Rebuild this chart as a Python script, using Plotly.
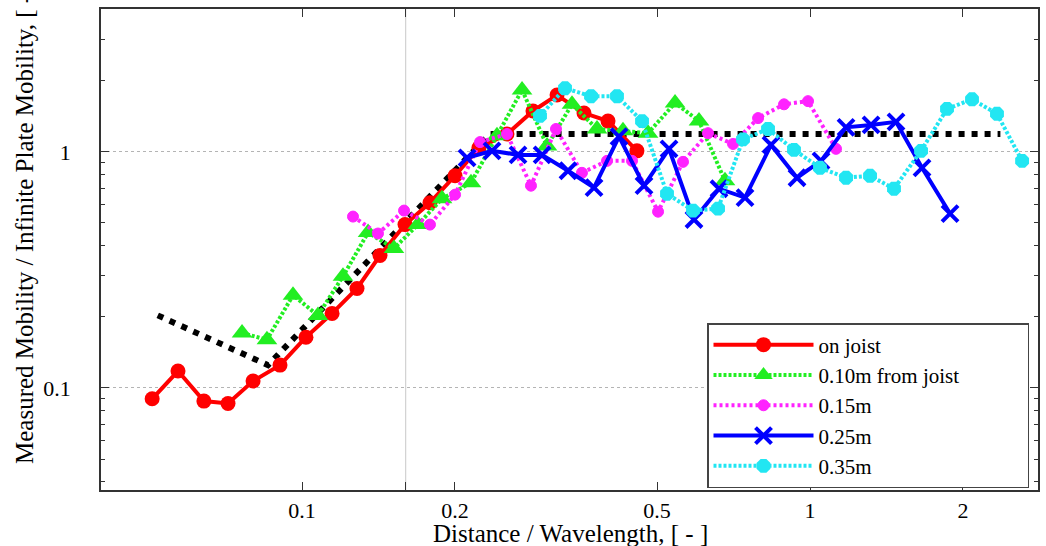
import plotly.graph_objects as go

# ---- data ----
x_joist = [0.0507, 0.0570, 0.0641, 0.0715, 0.0801, 0.0905, 0.1018, 0.1146, 0.1283, 0.1424,
           0.1595, 0.1786, 0.2001, 0.2230, 0.2532, 0.2849, 0.3177, 0.3590, 0.4003, 0.4563]
y_joist = [0.090, 0.118, 0.088, 0.086, 0.107, 0.125, 0.164, 0.207, 0.264, 0.364,
           0.492, 0.609, 0.792, 1.04, 1.19, 1.49, 1.74, 1.46, 1.35, 1.01]

x_010 = [0.0762, 0.0853, 0.0960, 0.1075, 0.1204, 0.1349, 0.1517, 0.1691, 0.1886, 0.2151,
         0.2420, 0.2711, 0.3036, 0.3400, 0.3808, 0.4284, 0.4799, 0.5424, 0.6046, 0.6802]
y_010 = [0.171, 0.160, 0.247, 0.203, 0.297, 0.455, 0.390, 0.492, 0.633, 0.740,
         1.17, 1.83, 1.06, 1.59, 1.25, 1.23, 1.20, 1.61, 1.35, 0.754]

x_015 = [0.1260, 0.1411, 0.1588, 0.1786, 0.2001, 0.2241, 0.2532, 0.2823, 0.3162, 0.3557,
         0.3985, 0.4463, 0.5022, 0.5623, 0.6298, 0.7055, 0.7903, 0.8889, 0.9910, 1.125]
y_015 = [0.532, 0.451, 0.564, 0.492, 0.659, 1.10, 1.19, 0.719, 1.25, 0.815,
         0.916, 0.916, 0.558, 0.907, 1.20, 1.08, 1.39, 1.59, 1.64, 1.03]

x_025 = [0.2113, 0.2366, 0.2662, 0.2969, 0.3339, 0.3757, 0.4207, 0.4712, 0.5278, 0.5910,
         0.6620, 0.7448, 0.8380, 0.9428, 1.0512, 1.1774, 1.3187, 1.4767, 1.6614, 1.8864]
y_025 = [0.943, 1.01, 0.971, 0.971, 0.832, 0.705, 1.16, 0.719, 1.03, 0.517,
         0.698, 0.640, 1.07, 0.777, 0.916, 1.27, 1.30, 1.34, 0.856, 0.548]

x_035 = [0.2941, 0.3294, 0.3706, 0.4169, 0.4670, 0.5230, 0.5885, 0.6591, 0.7381, 0.8267,
         0.9300, 1.0463, 1.1774, 1.3127, 1.4633, 1.6541, 1.8609, 2.0840, 2.3337, 2.6150]
y_035 = [1.42, 1.86, 1.72, 1.72, 1.35, 0.665, 0.564, 0.575, 1.13, 1.25,
         1.02, 0.856, 0.777, 0.792, 0.698, 1.01, 1.52, 1.67, 1.45, 0.916]

x_ref = [0.052, 0.0857, 0.2344, 2.37]
y_ref = [0.203, 0.125, 1.19, 1.19]

series_names = ["on joist", "0.10m from joist", "0.15m", "0.25m", "0.35m"]

x_tickvals = [0.1, 0.16, 0.2, 0.5, 1, 2]
x_ticktext = ["0.1", "", "0.2", "0.5", "1", "2"]
y_tickvals = [0.1, 1]
y_ticktext = ["0.1", "1"]
y_minor = [0.04, 0.05, 0.06, 0.07, 0.08, 0.09, 0.2, 0.3, 0.4, 0.5, 0.6, 0.7, 0.8, 0.9, 2, 3, 4]
x_vline = 0.16

FONT = "'Liberation Serif', 'Times New Roman', serif"
PAD = "\u00a0" * 12  # widens the legend box to match the reference

fig = go.Figure()

fig.add_trace(go.Scatter(x=x_ref, y=y_ref, mode="lines", showlegend=False,
                         line=dict(color="black", width=6, dash="6px,7px")))

fig.add_trace(go.Scatter(x=x_joist, y=y_joist, mode="lines+markers", name=series_names[0],
                         line=dict(color="#ff0000", width=4),
                         marker=dict(symbol="circle", size=15, color="#ff0000")))
fig.add_trace(go.Scatter(x=x_010, y=y_010, mode="lines+markers", name=series_names[1] + PAD,
                         line=dict(color="#22ee22", width=4, dash="3px,2px"),
                         marker=dict(symbol="triangle-up", size=18, color="#22ee22")))
fig.add_trace(go.Scatter(x=x_015, y=y_015, mode="lines+markers", name=series_names[2],
                         line=dict(color="#ff22ff", width=4, dash="3px,3px"),
                         marker=dict(symbol="circle", size=11, color="#ff22ff",
                                     line=dict(color="#ff22ff", width=1))))
fig.add_trace(go.Scatter(x=x_025, y=y_025, mode="lines+markers", name=series_names[3],
                         line=dict(color="#0000ff", width=4),
                         marker=dict(symbol="x-thin", size=16, color="#0000ff",
                                     line=dict(color="#0000ff", width=4))))
fig.add_trace(go.Scatter(x=x_035, y=y_035, mode="lines+markers", name=series_names[4],
                         line=dict(color="#22e6f2", width=4, dash="3px,2px"),
                         marker=dict(symbol="octagon", size=15, color="#22e6f2")))

fig.add_shape(type="line", xref="x", yref="paper", x0=x_vline, x1=x_vline, y0=0, y1=1,
              line=dict(color="#c8c8c8", width=1), layer="below")

fig.update_xaxes(type="log", range=[-1.3957, 0.4488], automargin=False,
                 tickmode="array", tickvals=x_tickvals, ticktext=x_ticktext,
                 ticks="inside", ticklen=8, tickcolor="#333", tickwidth=1,
                 showgrid=False, zeroline=False,
                 showline=True, linecolor="#333", linewidth=1.5, mirror="ticks",
                 tickfont=dict(family=FONT, size=22, color="black"))
fig.update_yaxes(type="log", range=[-1.432, 0.605], automargin=False,
                 tickmode="array", tickvals=y_tickvals, ticktext=y_ticktext,
                 ticks="inside", ticklen=8, tickcolor="#333", tickwidth=1,
                 showgrid=True, gridcolor="#b4b4b4", griddash="dot", gridwidth=1,
                 zeroline=False,
                 showline=True, linecolor="#333", linewidth=1.5, mirror="ticks",
                 minor=dict(tickvals=y_minor, ticks="inside", ticklen=4,
                            tickcolor="#333", showgrid=False),
                 tickfont=dict(family=FONT, size=22, color="black"),
                 ticklabelstandoff=24)

fig.add_annotation(text="Measured Mobility / Infinite Plate Mobility, [ - ]",
                   textangle=-90, xref="paper", yref="paper",
                   x=(25 - 101) / 937, y=(490 - 222) / 481,
                   xanchor="center", yanchor="middle", showarrow=False,
                   font=dict(family=FONT, size=25, color="black"))
fig.add_annotation(text="Distance / Wavelength, [ - ]",
                   xref="paper", yref="paper",
                   x=(570 - 101) / 937, y=(490 - 533) / 481,
                   xanchor="center", yanchor="middle", showarrow=False,
                   font=dict(family=FONT, size=25, color="black"))

fig.update_layout(
    width=1046, height=546,
    margin=dict(l=101, r=8, t=9, b=56),
    paper_bgcolor="white", plot_bgcolor="white",
    font=dict(family=FONT, size=22, color="black"),
    legend=dict(x=(707 - 101) / 937, y=(490 - 323) / 481, xanchor="left", yanchor="top",
                bgcolor="white", bordercolor="#444", borderwidth=1.5,
                itemwidth=100, tracegroupgap=0,
                font=dict(family=FONT, size=21, color="black")),
)

fig.write_html("out.html")
